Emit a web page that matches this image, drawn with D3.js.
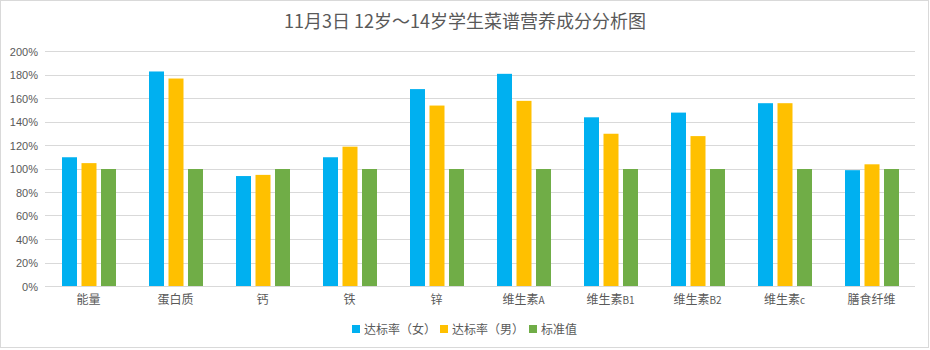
<!DOCTYPE html>
<html>
<head>
<meta charset="utf-8">
<script src="https://cdn.jsdelivr.net/npm/d3@7/dist/d3.min.js"></script>
<style>
  html, body { margin: 0; padding: 0; background: #fff; }
  text { font-family: "Noto Sans CJK SC", "DejaVu Sans", sans-serif; }
</style>
</head>
<body>
<svg id="chart" width="930" height="350"></svg>
<script>
// Nutrient categories and achievement rates (%)
const categories = ["能量", "蛋白质", "钙", "铁", "锌", "维生素A", "维生素B1", "维生素B2", "维生素c", "膳食纤维"];
const catLabels = [["能量"], ["蛋白质"], ["钙"], ["铁"], ["锌"], ["维生素", "A"], ["维生素", "B1"], ["维生素", "B2"], ["维生素", "c"], ["膳食纤维"]];
const seriesNames = ["达标率（女）", "达标率（男）", "标准值"];
const female = [110, 183, 94, 110, 168, 181, 144, 148, 156, 99];
const male = [105, 177, 95, 119, 154, 158, 130, 128, 156, 104];
const standard = [100, 100, 100, 100, 100, 100, 100, 100, 100, 100];
const yTicks = [0, 20, 40, 60, 80, 100, 120, 140, 160, 180, 200];
const colors = ["#00b0f0", "#ffc000", "#70ad47"];
const title = "11月3日 12岁～14岁学生菜谱营养成分分析图";

const series = [female, male, standard];
const svg = d3.select("#chart");
const W = 930, H = 350;
const margin = { left: 45, right: 15, top: 51.5, bottom: 63.5 };
const plotR = W - margin.right, plotB = H - margin.bottom;

// outer frame
svg.append("rect").attr("x", 0.5).attr("y", 0.5).attr("width", W - 2).attr("height", H - 3)
  .attr("fill", "#fff").attr("stroke", "#d9d9d9").attr("stroke-width", 1);

// title
svg.append("text").attr("x", W / 2).attr("y", 28).attr("text-anchor", "middle")
  .attr("font-size", 18).attr("fill", "#595959").text(title);

const x = d3.scaleBand().domain(categories).range([margin.left, plotR]).paddingInner(0).paddingOuter(0);
const y = d3.scaleLinear().domain([0, 200]).range([plotB, margin.top]);

// horizontal gridlines
svg.append("g").selectAll("line").data(yTicks).join("line")
  .attr("x1", margin.left).attr("x2", plotR)
  .attr("y1", d => Math.floor(y(d)) + 0.5).attr("y2", d => Math.floor(y(d)) + 0.5)
  .attr("stroke", "#d9d9d9").attr("stroke-width", 1);

// y axis labels
const yAxis = d3.axisLeft(y).tickValues(yTicks).tickFormat(d => d + "%").tickSize(0).tickPadding(0);
const gy = svg.append("g").attr("transform", `translate(${margin.left - 7},0)`).call(yAxis);
gy.select(".domain").remove();
gy.selectAll("text").attr("font-size", 11).attr("fill", "#595959")
  .style("font-family", "'Liberation Sans', 'Noto Sans CJK SC', sans-serif");

// bars within each category
const barW = 15, barStep = 19.5;
const inner = d3.scaleBand().domain(d3.range(series.length)).range([-barStep * 1.5, barStep * 1.5]);
series.forEach((vals, si) => {
  svg.append("g").selectAll("rect").data(vals).join("rect")
    .attr("x", (d, i) => x(categories[i]) + x.bandwidth() / 2 + inner(si) + (barStep - barW) / 2 + 0.5)
    .attr("width", barW)
    .attr("y", d => y(d))
    .attr("height", d => y(0) - y(d))
    .attr("fill", colors[si]);
});

// x axis line
svg.append("line").attr("x1", margin.left).attr("x2", plotR)
  .attr("y1", Math.floor(y(0)) + 0.5).attr("y2", Math.floor(y(0)) + 0.5)
  .attr("stroke", "#d9d9d9");

// category labels (trailing latin letters set smaller)
const xl = svg.append("g").selectAll("text").data(categories).join("text")
  .attr("x", d => x(d) + x.bandwidth() / 2).attr("y", 304)
  .attr("text-anchor", "middle").attr("font-size", 12).attr("fill", "#595959");
xl.each(function (d, i) {
  const t = d3.select(this);
  catLabels[i].forEach((part, pi) => {
    t.append("tspan").attr("font-size", pi === 0 ? 12 : 10).text(part);
  });
});

// legend
const legend = svg.append("g").attr("transform", "translate(0,329)");
const legX = [352, 440, 529];
seriesNames.forEach((name, i) => {
  legend.append("rect").attr("x", legX[i]).attr("y", -4).attr("width", 8).attr("height", 8).attr("fill", colors[i]);
  legend.append("text").attr("x", legX[i] + 12).attr("y", 4.5).attr("font-size", 12)
    .attr("fill", "#595959").text(name);
});
</script>
</body>
</html>
